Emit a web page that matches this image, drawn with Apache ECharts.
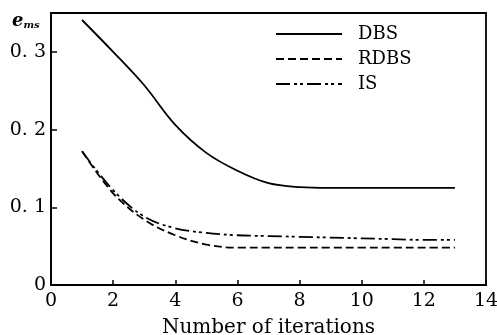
<!DOCTYPE html>
<html><head><meta charset="utf-8">
<script src="https://cdn.jsdelivr.net/npm/echarts@6/dist/echarts.min.js"></script>
<style>html,body{margin:0;padding:0;background:#fff}#c{width:497px;height:335px}</style>
</head><body><div id="c"></div>
<script>
const xTicks = [0, 2, 4, 6, 8, 10, 12, 14];
const seriesNames = ['DBS', 'RDBS', 'IS'];
const dbs = [[1,0.341],[2,0.300],[3,0.257],[4,0.206],[5,0.170],[6,0.147],[7,0.131],[8,0.126],[9,0.125],[10,0.125],[11,0.125],[12,0.125],[13,0.125]];
const rdbs = [[1,0.172],[2,0.118],[3,0.084],[4,0.064],[5,0.052],[6,0.048],[7,0.048],[8,0.048],[9,0.048],[10,0.048],[11,0.048],[12,0.048],[13,0.048]];
const is = [[1,0.172],[2,0.122],[3,0.088],[4,0.073],[5,0.067],[6,0.064],[7,0.063],[8,0.062],[9,0.061],[10,0.060],[11,0.059],[12,0.058],[13,0.058]];

const chart = echarts.init(document.getElementById('c'));
const font = 'DejaVu Serif';
const mk = (name, data, type) => ({
  name, type: 'line', data, smooth: 0.35, showSymbol: false, symbol: 'none',
  lineStyle: {color: '#000', width: 1.8, type},
  itemStyle: {color: '#000'}
});
chart.setOption({
  animation: false,
  grid: {left: 51, right: 11, top: 13, bottom: 50, show: true, containLabel: false, outerBoundsMode: 'none',
    borderColor: '#000', borderWidth: 1.8, backgroundColor: 'transparent'},
  legend: {
    left: 270, top: 20, orient: 'vertical', itemWidth: 66, itemHeight: 12, itemGap: 7,
    itemStyle: {opacity: 0},
    textStyle: {fontFamily: font, fontSize: 18, color: '#000', padding: [0, 0, 0, 11]},
    data: seriesNames
  },
  xAxis: {
    type: 'value', min: 0, max: 14, interval: 2,
    axisLine: {lineStyle: {color: '#000', width: 1.8}},
    axisTick: {inside: true, length: 5, lineStyle: {color: '#000', width: 1.5}},
    splitLine: {show: false},
    axisLabel: {fontFamily: font, fontSize: 19, color: '#000', margin: 7},
    name: 'Number of iterations', nameLocation: 'middle', nameGap: 33,
    nameTextStyle: {fontFamily: font, fontSize: 20, color: '#000'}
  },
  yAxis: {
    type: 'value', min: 0, max: 0.35, interval: 0.1,
    axisLine: {show: true, lineStyle: {color: '#000', width: 1.8}},
    axisTick: {show: true, inside: true, length: 6, lineStyle: {color: '#000', width: 1.5}},
    splitLine: {show: false},
    axisLabel: {fontFamily: font, fontSize: 19, color: '#000', margin: 5, showMaxLabel: false,
      formatter: v => v === 0 ? '0' : ('0. ' + Math.round(v * 10))}
  },
  graphic: [{
    type: 'text', left: 12, top: 12,
    style: {text: '{e|e}{s|ms}', rich: {
      e: {fontFamily: font, fontSize: 18, fontStyle: 'italic', fontWeight: 'bold', fill: '#000'},
      s: {fontFamily: font, fontSize: 10, fontStyle: 'italic', fontWeight: 'bold', fill: '#000', verticalAlign: 'bottom', padding: [9, 0, 0, 0]}
    }}
  }],
  series: [mk('DBS', dbs, 'solid'), mk('RDBS', rdbs, [8, 4]), mk('IS', is, [14, 4, 3, 3, 3, 4])]
});
</script></body></html>
